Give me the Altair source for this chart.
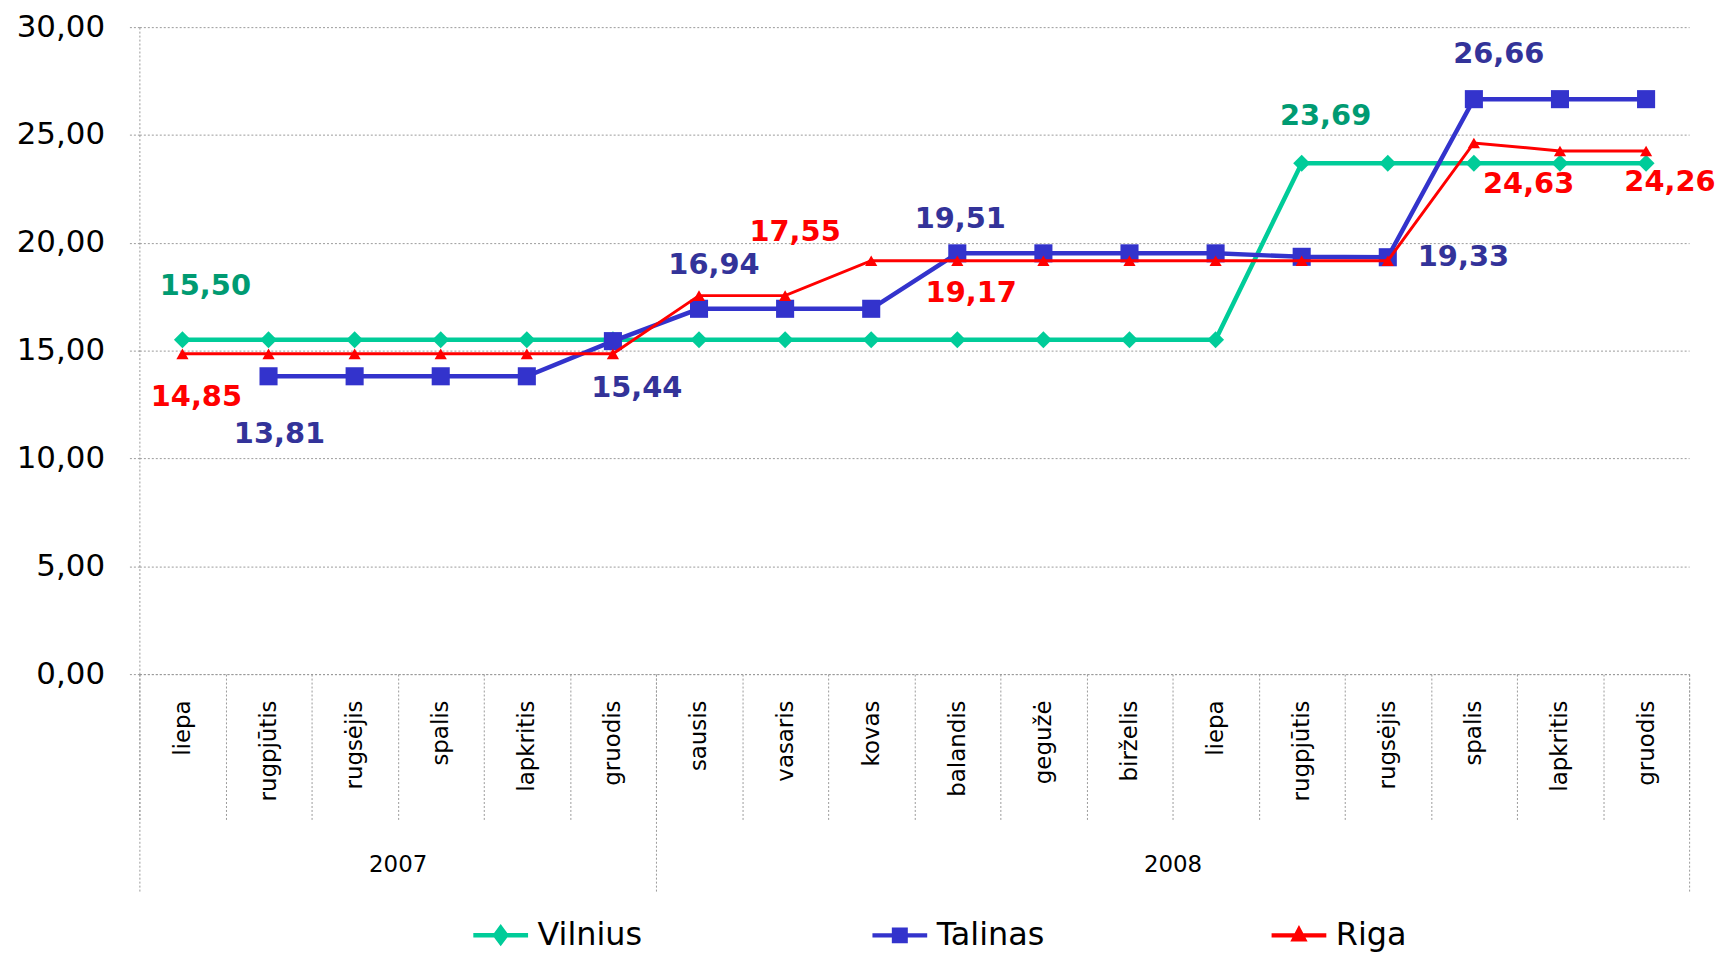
import json
import altair as alt
import pandas as pd

# ---------------- data ----------------
months_2007 = ["liepa", "rugpjūtis", "rugsėjis", "spalis", "lapkritis", "gruodis"]
months_2008 = ["sausis", "vasaris", "kovas", "balandis", "gegužė", "birželis",
               "liepa", "rugpjūtis", "rugsėjis", "spalis", "lapkritis", "gruodis"]
years = ["2007", "2008"]
cities = ["Vilnius", "Talinas", "Riga"]

vilnius = [15.50, 15.50, 15.50, 15.50, 15.50, 15.50, 15.50, 15.50, 15.50,
           15.50, 15.50, 15.50, 15.50, 23.69, 23.69, 23.69, 23.69, 23.69]
talinas = [None, 13.81, 13.81, 13.81, 13.81, 15.44, 16.94, 16.94, 16.94,
           19.51, 19.51, 19.51, 19.51, 19.35, 19.33, 26.66, 26.66, 26.66]
riga = [14.85, 14.85, 14.85, 14.85, 14.85, 14.85, 17.55, 17.55, 19.17,
        19.17, 19.17, 19.17, 19.17, 19.17, 19.17, 24.63, 24.26, 24.26]

y_ticks = [0, 5, 10, 15, 20, 25, 30]

# ---------------- table ----------------
months = months_2007 + months_2008
series = {"Vilnius": vilnius, "Talinas": talinas, "Riga": riga}
rows = []
for c in cities:
    for i, v in enumerate(series[c]):
        if v is None:
            continue
        rows.append({"idx": i, "city": c, "value": v,
                     "label": f"{v:.2f}".replace(".", ",")})
df = pd.DataFrame(rows)

# ---------------- styles ----------------
FONT = "DejaVu Sans"
GRID = "#9a9a9a"
line_colors = {"Vilnius": "#00CC99", "Talinas": "#3333CC", "Riga": "#FF0000"}
label_colors = {"Vilnius": "#009B72", "Talinas": "#333399", "Riga": "#FF0000"}
shapes = {"Vilnius": "diamond", "Talinas": "square", "Riga": "triangle-up"}
sizes = {"Vilnius": 290, "Talinas": 330, "Riga": 150}
widths = {"Vilnius": 4.5, "Talinas": 4.5, "Riga": 3}
legend_paths = {
    "Vilnius": "M-1,0L1,0M0,-0.27L0.2,0L0,0.27L-0.2,0Z",
    "Talinas": "M-1,0L1,0M-0.21,-0.21L0.21,-0.21L0.21,0.21L-0.21,0.21Z",
    "Riga": "M-1,0L1,0M0,-0.2L0.18,0.14L-0.18,0.14Z",
}
# label placement (city, month index, dx, dy)
label_spots = [
    ("Vilnius", 0, 23, -54),
    ("Riga", 0, 14, 43),
    ("Talinas", 1, 11, 58),
    ("Talinas", 5, 24, 47),
    ("Talinas", 6, 15, -44),
    ("Riga", 7, 10, -64),
    ("Talinas", 9, 3, -34),
    ("Riga", 9, 14, 33),
    ("Vilnius", 13, 24, -47),
    ("Talinas", 14, 76, 0),
    ("Talinas", 15, 25, -45),
    ("Riga", 15, 55, 41),
    ("Riga", 17, 24, 31),
]

n = len(months)
x_scale = alt.Scale(domain=[-0.5, n - 0.5], nice=False, zero=False)
y_scale = alt.Scale(domain=[0, 30], nice=False, zero=True)

y_axis = alt.Axis(
    values=y_ticks, title=None,
    labelExpr="replace(format(datum.value, '.2f'), '.', ',')",
    labelFont=FONT, labelFontSize=31, labelColor="black", labelPadding=23,
    grid=True, gridColor=GRID, gridDash=[2, 2], gridWidth=1,
    domain=True, domainColor=GRID, domainDash=[2, 2], domainWidth=1,
    ticks=True, tickColor=GRID, tickDash=[2, 2], tickSize=12, tickWidth=1,
)


def xenc(axis=None):
    return alt.X("idx:Q", scale=x_scale, axis=axis)


yenc = alt.Y("value:Q", scale=y_scale, axis=y_axis)

month_axis = alt.Axis(
    orient="bottom", values=list(range(n)), title=None,
    labelExpr=json.dumps(months, ensure_ascii=False) + "[datum.value]",
    labelAngle=270, labelAlign="right", labelBaseline="middle",
    labelFont=FONT, labelFontSize=23, labelColor="black", labelPadding=26,
    labelOverlap=False, labelFlush=False,
    ticks=False, tickSize=0, grid=False,
    domain=True, domainColor=GRID, domainDash=[2, 2], domainWidth=1,
)
month_sep_axis = alt.Axis(
    orient="bottom", values=[i - 0.5 for i in range(n + 1)], title=None,
    labels=False, grid=False, domain=False,
    ticks=True, tickSize=148, tickColor=GRID, tickDash=[2, 2], tickWidth=1,
)
n07 = len(months_2007)
year_sep_axis = alt.Axis(
    orient="bottom", values=[-0.5, n07 - 0.5, n - 0.5], title=None,
    labels=False, grid=False, domain=False,
    ticks=True, tickSize=218, tickColor=GRID, tickDash=[2, 2], tickWidth=1,
)
year_centers = [(n07 - 1) / 2, n07 + (len(months_2008) - 1) / 2]
year_label_axis = alt.Axis(
    orient="bottom", values=year_centers, title=None,
    labelExpr=f"datum.value < {n07 - 0.5} ? '{years[0]}' : '{years[1]}'",
    labelAngle=0, labelBaseline="middle", labelAlign="center",
    labelFont=FONT, labelFontSize=23, labelColor="black", labelPadding=191,
    labelOverlap=False, labelFlush=False,
    ticks=False, tickSize=0, grid=False, domain=False,
)

base = alt.Chart(df)
layers = []
for ax in [month_axis, month_sep_axis, year_sep_axis, year_label_axis]:
    layers.append(base.mark_point(opacity=0).encode(x=xenc(ax), y=yenc))

for c in cities:
    sub = base.transform_filter(alt.datum.city == c)
    layers.append(sub.mark_line(color=line_colors[c], strokeWidth=widths[c])
                  .encode(x=xenc(), y=yenc))
    layers.append(sub.mark_point(shape=shapes[c], filled=True, size=sizes[c],
                                 color=line_colors[c], opacity=1)
                  .encode(x=xenc(), y=yenc))

for c, i, dx, dy in label_spots:
    layers.append(
        base.transform_filter((alt.datum.city == c) & (alt.datum.idx == i))
        .mark_text(dx=dx, dy=dy, font=FONT, fontSize=29, fontWeight="bold",
                   color=label_colors[c], align="center", baseline="middle")
        .encode(x=xenc(), y=yenc, text="label:N")
    )

legend = alt.Legend(
    title=None, orient="none", legendX=333, legendY=882,
    direction="horizontal", gridAlign="all", columnPadding=218,
    labelOffset=7, labelFont=FONT, labelFontSize=32, labelColor="black",
    symbolSize=3025, symbolStrokeWidth=4.5, symbolOpacity=1, padding=0,
)
leg_scale_color = alt.Scale(domain=cities, range=[line_colors[c] for c in cities])
leg_scale_shape = alt.Scale(domain=cities, range=[legend_paths[c] for c in cities])
layers.append(
    base.mark_point(opacity=0, filled=True).encode(
        x=xenc(), y=yenc,
        fill=alt.Fill("city:N", scale=leg_scale_color, legend=legend, sort=cities),
        stroke=alt.Stroke("city:N", scale=leg_scale_color, legend=legend, sort=cities),
        shape=alt.Shape("city:N", scale=leg_scale_shape, legend=legend, sort=cities),
    )
)

chart = (
    alt.layer(*layers)
    .resolve_axis(x="independent")
    .properties(
        width=1557, height=650,
        autosize=alt.AutoSizeParams(type="none"),
        padding={"left": 132, "top": 17, "right": 27, "bottom": 282},
        background="white",
    )
    .configure_view(stroke=None)
)

chart.save("out.html", embed_options={"renderer": "svg", "actions": False})
